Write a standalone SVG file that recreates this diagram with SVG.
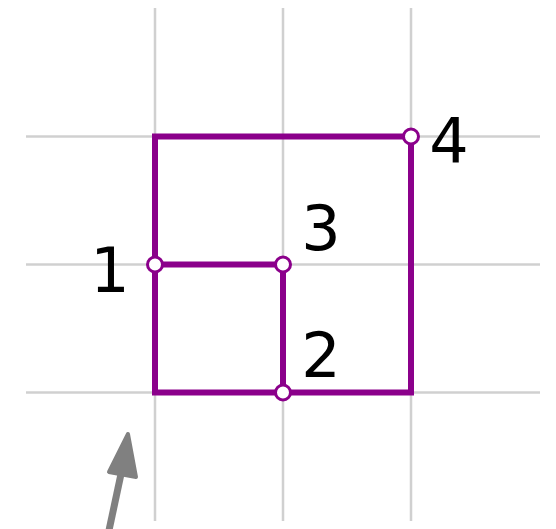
<svg xmlns="http://www.w3.org/2000/svg" width="556" height="529" viewBox="0 0 556 529">
<style>
.grid{stroke:#d0d0d0;stroke-width:2.5;fill:none}
.edge{stroke:#8b008b;stroke-width:6;fill:none;stroke-linejoin:miter}
.pt{fill:#fff;stroke:#8b008b;stroke-width:3}
.lbl{font-family:"DejaVu Sans",sans-serif;font-size:62px;fill:#000;text-anchor:middle}
</style>
<rect width="556" height="529" fill="#fff"/>
<g id="grid" class="grid">
<line x1="155" y1="8" x2="155" y2="521"/>
<line x1="283" y1="8" x2="283" y2="521"/>
<line x1="411" y1="8" x2="411" y2="521"/>
<line x1="26" y1="136.5" x2="540" y2="136.5"/>
<line x1="26" y1="264.5" x2="540" y2="264.5"/>
<line x1="26" y1="392.5" x2="540" y2="392.5"/>
</g>
<g id="connectors" class="edge">
<path d="M411,136.5 H155 V392.5 H411 Z"/>
<path d="M155,264.5 H283 V392.5"/>
</g>
<g id="node1"><circle class="pt" cx="155" cy="264.5" r="7.5"/><text class="lbl" x="110" y="292">1</text></g>
<g id="node2"><circle class="pt" cx="283" cy="392.5" r="7.5"/><text class="lbl" x="321" y="377">2</text></g>
<g id="node3"><circle class="pt" cx="283" cy="264.5" r="7.5"/><text class="lbl" x="321" y="250">3</text></g>
<g id="node4"><circle class="pt" cx="411" cy="136.5" r="7.5"/><text class="lbl" x="449" y="163">4</text></g>
<g id="arrow">
<path d="M108,535 L124,460" stroke="#808080" stroke-width="7" fill="none"/>
<polygon points="128,434 109,472 136,477" fill="#808080" stroke="#808080" stroke-width="4" stroke-linejoin="round"/>
</g>
</svg>
